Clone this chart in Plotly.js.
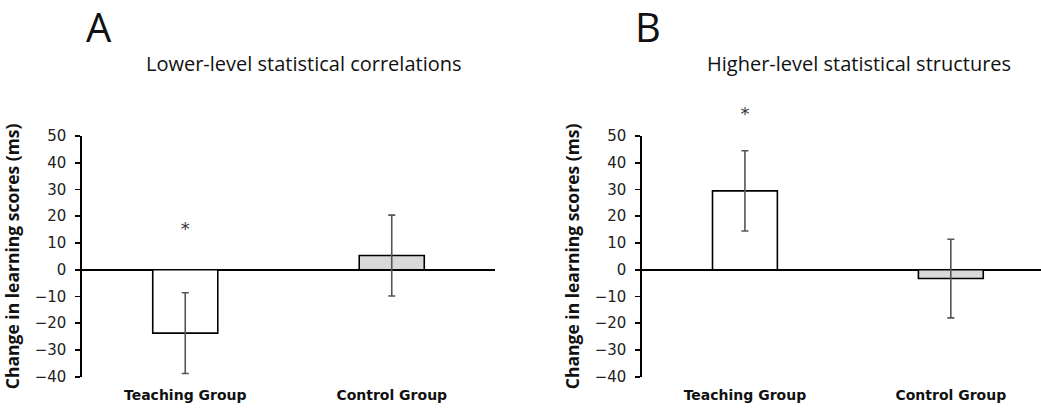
<!DOCTYPE html>
<html>
<head>
<meta charset="utf-8">
<script src="https://cdn.plot.ly/plotly-3.0.1.min.js"></script>
<style>html,body{margin:0;padding:0;background:#fff;}#chart{width:1041px;height:408px;}</style>
</head>
<body>
<div id="chart"></div>
<script>
const categories = ["Teaching Group", "Control Group"];
const panelLetters = ["A", "B"];
const panelTitles = ["Lower-level statistical correlations", "Higher-level statistical structures"];
const valuesA = [-23.7, 5.3];
const errorsA = [15.1, 15.1];
const valuesB = [29.5, -3.3];
const errorsB = [15.0, 14.7];
const starA = [14.7, null];
const starB = [57.7, null];
const yTicks = [-40, -30, -20, -10, 0, 10, 20, 30, 40, 50];
const yTitle = "Change in learning scores (ms)";

const barColors = ["#ffffff", "#d9d9d9"];

// axis geometry (pixels in the 1041x408 figure)
const H = 408;
const axisBottomPx = 376.7, axisTopPx = 136, starAxisTopPx = 90;
const yMin = -40, yMax = 50;
const pxPerUnit = (axisBottomPx - axisTopPx) / (yMax - yMin);
const starAxisMax = yMax + (axisTopPx - starAxisTopPx) / pxPerUnit;

function barTrace(vals, errs, xa, ya) {
  return {
    type: "bar", x: categories, y: vals, xaxis: xa, yaxis: ya,
    width: 0.315,
    marker: {color: barColors, line: {color: "#000", width: 1.6}},
    error_y: {type: "data", array: errs, visible: true, color: "#555", thickness: 1.6, width: 3.5},
    hoverinfo: "skip", showlegend: false
  };
}
function starTrace(vals, xa, ya) {
  return {
    type: "scatter", mode: "text", x: categories, y: vals, xaxis: xa, yaxis: ya,
    text: vals.map(v => v === null ? "" : "*"), textposition: "middle center", cliponaxis: false,
    textfont: {family: "DejaVu Sans", size: 18, color: "#333"},
    hoverinfo: "skip", showlegend: false
  };
}

const data = [
  barTrace(valuesA, errorsA, "x", "y"), barTrace(valuesB, errorsB, "x2", "y2"),
  starTrace(starA, "x", "y3"), starTrace(starB, "x2", "y4")
];

const yBottom = 1 - axisBottomPx / H, yTop = 1 - axisTopPx / H, yStarTop = 1 - starAxisTopPx / H;

function yAxis(anchor) {
  return {
    anchor: anchor, domain: [yBottom, yTop], range: [yMin, yMax], tickvals: yTicks,
    showgrid: false, zeroline: true, zerolinecolor: "#000", zerolinewidth: 1.6,
    showline: true, linecolor: "#000", linewidth: 1.6,
    ticks: "outside", ticklen: 5, tickwidth: 1.6, tickcolor: "#000",
    ticklabelstandoff: 6,
    tickfont: {family: "DejaVu Sans", size: 15, color: "#222"},
    title: {text: yTitle, font: {family: "Open Sans", size: 17.5, color: "#111", weight: "bold"}, standoff: 10},
    fixedrange: true
  };
}
function starAxis(anchor) {
  return {anchor: anchor, domain: [yBottom, yStarTop], range: [yMin, starAxisMax], visible: false,
    showgrid: false, zeroline: false, fixedrange: true};
}
function xAxis(anchor, dom, rng) {
  return {
    anchor: anchor, domain: dom, range: rng, showgrid: false, zeroline: false, showline: false,
    ticks: "", ticklabelstandoff: 8,
    tickfont: {family: "DejaVu Sans", size: 14, color: "#111", weight: "bold"},
    fixedrange: true
  };
}

const annotations = [];
[[panelLetters[0], 99], [panelLetters[1], 648]].forEach(([t, px]) => {
  annotations.push({xref: "paper", yref: "paper", x: px / 1041, y: 1 - 26 / H, text: t, showarrow: false,
    xanchor: "center", yanchor: "middle", font: {family: "Open Sans", size: 40, color: "#111"}});
});
[[panelTitles[0], 304], [panelTitles[1], 859]].forEach(([t, px]) => {
  annotations.push({xref: "paper", yref: "paper", x: px / 1041, y: 1 - 63 / H, text: t, showarrow: false,
    xanchor: "center", yanchor: "middle", font: {family: "Open Sans", size: 20, color: "#111"}});
});

const layout = {
  width: 1041, height: H, margin: {l: 0, r: 0, t: 0, b: 0},
  paper_bgcolor: "#fff", plot_bgcolor: "rgba(0,0,0,0)",
  xaxis: xAxis("y", [82 / 1041, 495 / 1041], [-0.5, 1.5]),
  yaxis: yAxis("x"),
  xaxis2: xAxis("y2", [642 / 1041, 1], [-0.5, 1.438]),
  yaxis2: yAxis("x2"),
  yaxis3: starAxis("x"),
  yaxis4: starAxis("x2"),
  annotations: annotations, bargap: 0
};

Plotly.newPlot("chart", data, layout, {staticPlot: true, displayModeBar: false});
</script>
</body>
</html>
